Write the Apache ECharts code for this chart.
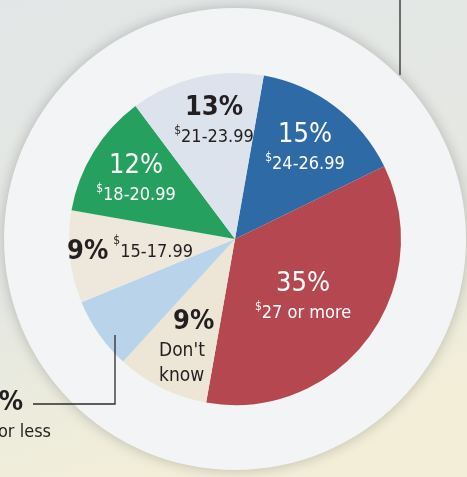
<!DOCTYPE html>
<html>
<head>
<meta charset="utf-8">
<title>Pie</title>
<script src="https://cdn.jsdelivr.net/npm/echarts@6/dist/echarts.min.js"></script>
<style>
  html, body { margin: 0; padding: 0; }
  #main { width: 467px; height: 477px; }
</style>
</head>
<body>
<div id="main"></div>
<script>
// data, clockwise from the 13%/15% edge
var shares = [15, 35, 9, 7, 9, 12, 13];
var priceLabels = ['$24-26.99', '$27 or more', "Don't\nknow", '$14.99 or less', '$15-17.99', '$18-20.99', '$21-23.99'];

// look
var sliceColors = ['#2d6aa6', '#b4474f', '#ede5d5', '#b9d3ea', '#eee8dc', '#25a05f', '#dde3ec'];
var textColors = ['#fff', '#fff', '#231f20', '#231f20', '#231f20', '#fff', '#231f20'];
// label anchors, relative to the pie centre
var labelAt = [[70, -92], [68, 57], [-76, 108], [-184, 176], [-105, 13], [-99, -61], [-21, -119]];
var labelAlign = ['center', 'center', 'left', 'right', 'center', 'center', 'center'];

var cx = 235, cy = 239, r = 166, discR = 231;
var font = '"DejaVu Sans Condensed", "Liberation Sans Narrow", sans-serif';

var myChart = echarts.init(document.getElementById('main'));

function priceText(s, key) {
  if (s.charAt(0) === '$') {
    return '{d' + key + '|$}{s' + key + '|' + s.slice(1) + '}';
  }
  return s.split('\n').map(function (l) { return '{s' + key + '|' + l + '}'; }).join('\n');
}

function rich() {
  var out = {};
  ['w', 'k'].forEach(function (k) {
    var c = k === 'w' ? '#fff' : '#231f20';
    out['p' + k] = { fontFamily: font, fontSize: 27, color: c, lineHeight: 34, fontWeight: k === 'k' ? 'bold' : 'normal' };
    out['s' + k] = { fontFamily: font, fontSize: 18, color: c, lineHeight: 24 };
    out['d' + k] = { fontFamily: font, fontSize: 12, color: c, lineHeight: 24, verticalAlign: 'top' };
  });
  out.pkL = echarts.util.extend({ padding: [0, 0, 0, 14] }, out.pk);
  out.pkR = echarts.util.extend({ padding: [0, 28, 0, 0] }, out.pk);
  out.sdk = { fontFamily: font, fontSize: 19, color: '#231f20', lineHeight: 25 };
  return out;
}

var data = shares.map(function (v, i) {
  return {
    value: v,
    name: priceLabels[i],
    itemStyle: { color: sliceColors[i] }
  };
});

var option = {
  backgroundColor: {
    type: 'linear', x: 0, y: 0, x2: 0.3, y2: 1,
    colorStops: [
      { offset: 0, color: '#e2e6e6' },
      { offset: 0.6, color: '#e5e8e2' },
      { offset: 1, color: '#f2eed8' }
    ]
  },
  animation: false,
  graphic: [
    {
      type: 'circle', z: 0,
      shape: { cx: cx, cy: cy, r: discR },
      style: { fill: '#f2f4f6', shadowBlur: 14, shadowColor: 'rgba(0,0,0,0.22)' }
    },
    {
      type: 'polyline', z: 100,
      shape: { points: [[115, 335], [115, 404], [33, 404]] },
      style: { stroke: '#2b2b2b', lineWidth: 1.3, fill: null }
    },
    {
      type: 'polyline', z: 100,
      shape: { points: [[400, 0], [400, 75]] },
      style: { stroke: '#2b2b2b', lineWidth: 1.3, fill: null }
    }
  ],
  series: [
    {
      type: 'pie',
      center: [cx, cy],
      radius: [0, r],
      startAngle: 80,
      clockwise: true,
      silent: true,
      data: data,
      label: {
        show: true,
        position: 'inside',
        formatter: function (p) {
          var i = p.dataIndex;
          var k = textColors[i] === '#fff' ? 'w' : 'k';
          var pk = i === 2 ? 'pkL' : i === 3 ? 'pkR' : 'p' + k;
          var pct = '{' + pk + '|' + shares[i] + '%}';
          if (i === 2) return pct + '\n' + priceLabels[i].split('\n').map(function (l) { return '{sdk|' + l + '}'; }).join('\n');
          if (i === 4) return pct + '{s' + k + '| }' + priceText(priceLabels[i], k);
          return pct + '\n' + priceText(priceLabels[i], k);
        },
        rich: rich()
      },
      labelLine: { show: false },
      labelLayout: function (p) {
        var o = labelAt[p.dataIndex];
        return { x: cx + o[0], y: cy + o[1], align: labelAlign[p.dataIndex], verticalAlign: 'middle' };
      }
    }
  ]
};

myChart.setOption(option);
</script>
</body>
</html>
